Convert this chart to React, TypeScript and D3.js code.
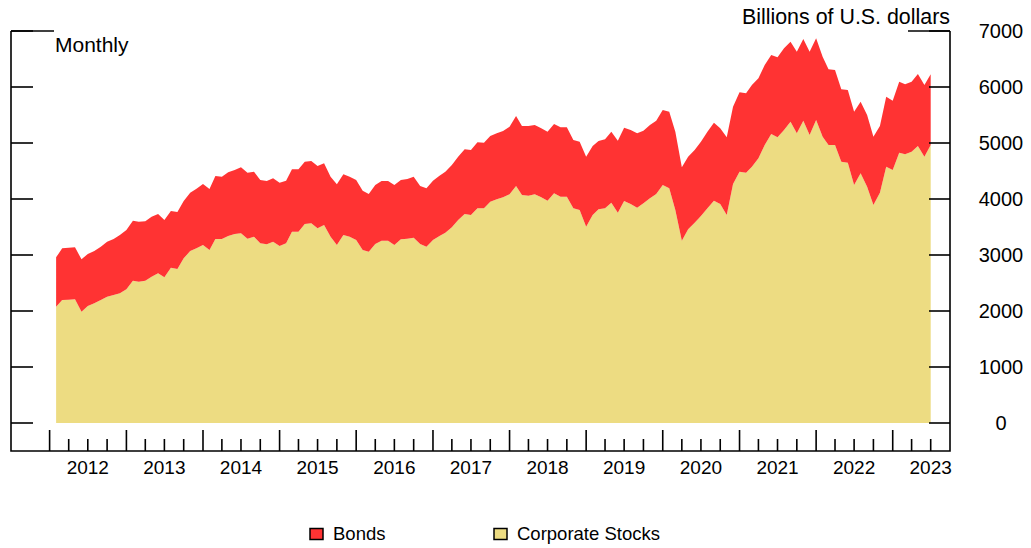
import React, { useEffect, useRef } from 'react';
import * as d3 from 'd3';

// Monthly values, Feb 2012 - Jul 2023, billions of U.S. dollars
const corporateStocks: number[] = [
  2077, 2196, 2202, 2208, 1988, 2089, 2137, 2196, 2256, 2286,
  2315, 2387, 2542, 2524, 2542, 2613, 2673, 2601, 2774, 2750,
  2940, 3071, 3119, 3179, 3089, 3286, 3286, 3339, 3375, 3387,
  3292, 3327, 3208, 3190, 3238, 3161, 3208, 3417, 3417, 3554,
  3565, 3476, 3536, 3327, 3179, 3357, 3327, 3268, 3089, 3060,
  3196, 3256, 3256, 3179, 3280, 3292, 3310, 3196, 3149, 3268,
  3339, 3399, 3494, 3625, 3732, 3714, 3833, 3833, 3952, 3994,
  4030, 4083, 4232, 4071, 4060, 4083, 4030, 3970, 4101, 4042,
  4042, 3833, 3804, 3506, 3714, 3815, 3833, 3935, 3756, 3964,
  3911, 3845, 3923, 4012, 4089, 4250, 4190, 3804, 3256, 3458,
  3577, 3696, 3833, 3970, 3911, 3714, 4268, 4488, 4470, 4577,
  4726, 4964, 5161, 5101, 5232, 5381, 5173, 5399, 5143, 5411,
  5113, 4964, 4964, 4667, 4649, 4250, 4458, 4220, 3893, 4113,
  4577, 4518, 4827, 4798, 4845, 4946, 4756, 4964,
];

const bonds: number[] = [
  881, 923, 929, 929, 935, 929, 934, 953, 982, 1000,
  1042, 1059, 1071, 1071, 1059, 1072, 1059, 1024, 1012, 1018,
  1024, 1042, 1066, 1089, 1090, 1125, 1113, 1137, 1143, 1178,
  1178, 1161, 1131, 1131, 1131, 1131, 1119, 1113, 1113, 1113,
  1114, 1113, 1101, 1072, 1083, 1083, 1072, 1071, 1060, 1029,
  1054, 1065, 1065, 1071, 1059, 1065, 1089, 1036, 1041, 1059,
  1078, 1089, 1113, 1131, 1155, 1161, 1179, 1173, 1173, 1179,
  1184, 1209, 1250, 1233, 1244, 1238, 1232, 1232, 1238, 1238,
  1238, 1221, 1220, 1250, 1232, 1221, 1232, 1267, 1286, 1310,
  1321, 1328, 1297, 1309, 1310, 1339, 1370, 1398, 1309, 1298,
  1298, 1328, 1369, 1393, 1351, 1387, 1381, 1417, 1417, 1459,
  1429, 1429, 1410, 1429, 1458, 1429, 1458, 1458, 1488, 1458,
  1429, 1351, 1340, 1291, 1297, 1310, 1280, 1280, 1220, 1191,
  1250, 1238, 1268, 1250, 1250, 1286, 1280, 1262,
];

const yTicks = [0, 1000, 2000, 3000, 4000, 5000, 6000, 7000];
const yearLabels = ['2012', '2013', '2014', '2015', '2016', '2017', '2018', '2019', '2020', '2021', '2022', '2023'];
const seriesNames = ['Bonds', 'Corporate Stocks'];
const seriesColors = ['#ff3333', '#eddc82'];

const font = '"Liberation Sans", Arial, sans-serif';

interface Row {
  date: Date;
  stocks: number;
  bonds: number;
}

const Chart: React.FC = () => {
  const svgRef = useRef<SVGSVGElement>(null);

  useEffect(() => {
    if (!svgRef.current) return;

    const width = 1031;
    const height = 548;
    const left = 11, right = 950, top = 31, zeroY = 423, bottom = 451;

    const dates = d3.timeMonth.range(new Date(2012, 1, 1), new Date(2023, 7, 1));
    const rows: Row[] = dates.map((d, i) => ({ date: d, stocks: corporateStocks[i], bonds: bonds[i] }));

    const svg = d3.select(svgRef.current)
      .attr('width', width)
      .attr('height', height);

    svg.selectAll('*').remove();

    svg.append('rect').attr('width', width).attr('height', height).style('fill', 'white');

    const x = d3.scaleTime()
      .domain([new Date(2011, 6, 1), new Date(2023, 9, 1)])
      .range([left, right]);
    const y = d3.scaleLinear().domain([0, 7000]).range([zeroY, top]);

    // stocks on the bottom, bonds stacked on top
    const stacked = d3.stack<Row>().keys(['stocks', 'bonds'])(rows);
    const area = d3.area<d3.SeriesPoint<Row>>()
      .x(d => x(d.data.date))
      .y0(d => y(d[0]))
      .y1(d => y(d[1]));

    svg.append('path').attr('d', area(stacked[0])).style('fill', seriesColors[1]);
    svg.append('path').attr('d', area(stacked[1])).style('fill', seriesColors[0]);

    const frame = svg.append('g').style('stroke', 'black').style('stroke-width', 1.6).style('fill', 'none');
    frame.append('path').attr('d', `M${left},${top}V${bottom}H${right}V${top}`);
    frame.append('line').attr('x1', left).attr('x2', 54).attr('y1', top).attr('y2', top);
    frame.append('line').attr('x1', 908).attr('x2', right).attr('y1', top).attr('y2', top);

    // y ticks on both sides
    yTicks.forEach(t => {
      frame.append('line').attr('x1', left).attr('x2', left + 22).attr('y1', y(t)).attr('y2', y(t));
      frame.append('line').attr('x1', right - 21).attr('x2', right).attr('y1', y(t)).attr('y2', y(t));
    });

    svg.selectAll('.ylab')
      .data(yTicks)
      .enter().append('text')
      .attr('x', 1001)
      .attr('y', d => y(d) + 7)
      .style('text-anchor', 'middle')
      .style('font-family', font)
      .style('font-size', '20px')
      .text(d => String(d));

    // quarterly ticks, taller at each January
    const quarters = d3.timeMonth.every(3)!.range(new Date(2012, 0, 1), new Date(2023, 7, 1));
    quarters.forEach(q => {
      const major = q.getMonth() === 0;
      frame.append('line')
        .attr('x1', x(q)).attr('x2', x(q))
        .attr('y1', bottom).attr('y2', bottom - (major ? 21 : 12));
    });

    svg.selectAll('.xlab')
      .data(yearLabels)
      .enter().append('text')
      .attr('x', d => x(new Date(+d, 6, 1)))
      .attr('y', 474)
      .style('text-anchor', 'middle')
      .style('font-family', font)
      .style('font-size', '19px')
      .text(d => d);

    svg.append('text')
      .attr('x', 55).attr('y', 52)
      .style('font-family', font).style('font-size', '21px')
      .text('Monthly');

    svg.append('text')
      .attr('x', right).attr('y', 24)
      .style('text-anchor', 'end')
      .style('font-family', font).style('font-size', '21.4px')
      .text('Billions of U.S. dollars');

    // legend
    const legendX = [310, 494];
    seriesNames.forEach((name, i) => {
      svg.append('rect')
        .attr('x', legendX[i]).attr('y', 528.5)
        .attr('width', 13).attr('height', 11)
        .style('fill', seriesColors[i])
        .style('stroke', 'black')
        .style('stroke-width', 1.5);
      svg.append('text')
        .attr('x', legendX[i] + 23).attr('y', 540)
        .style('font-family', font).style('font-size', '18.5px')
        .text(name);
    });
  }, []);

  return <svg ref={svgRef} style={{ position: 'absolute', left: 0, top: 0 }}></svg>;
};

export default function App() {
  return (
    <div>
      <Chart />
    </div>
  );
}
